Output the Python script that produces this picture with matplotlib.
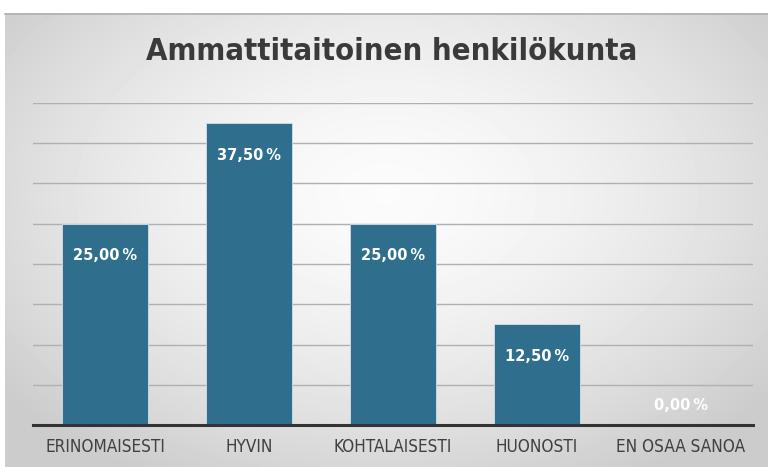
import numpy as np
import matplotlib.pyplot as plt

categories = ["ERINOMAISESTI", "HYVIN", "KOHTALAISESTI", "HUONOSTI", "EN OSAA SANOA"]
values = [25.0, 37.5, 25.0, 12.5, 0.0]
title = "Ammattitaitoinen henkilökunta"

W, H = 768, 467
fig = plt.figure(figsize=(W / 100, H / 100), dpi=100)

# background with radial gradient
bg = fig.add_axes([0, 0, 1, 1])
bg.set_xlim(0, W)
bg.set_ylim(H, 0)
bg.axis("off")
yy, xx = np.mgrid[0:H - 13, 0:W - 5]
cx, cy = (W - 5) / 2, (H - 13) * 0.4
r = np.sqrt(((xx - cx) / (W * 0.6)) ** 2 + ((yy - cy) / (H * 0.65)) ** 2)
g = np.clip(0.985 - 0.17 * r ** 1.6, 0.8, 1)
bg.imshow(g, cmap="gray", vmin=0, vmax=1, extent=[5, W, H, 13], aspect="auto")
bg.plot([5, W], [13.5, 13.5], color="#b0b0b0", lw=1.2)

# plot area
x0, x1 = 33, 753
ytop, ybase = 103, 425
ax = fig.add_axes([x0 / W, 1 - ybase / H, (x1 - x0) / W, (ybase - ytop) / H])
ax.patch.set_alpha(0)
ax.set_xlim(-0.5, len(categories) - 0.5)
ax.set_ylim(0, 40)
ax.set_yticks(np.arange(5, 41, 5))
ax.grid(axis="y", color="#b0b0b0", lw=1.0, zorder=0)
ax.set_axisbelow(True)
for s in ["top", "right", "left", "bottom"]:
    ax.spines[s].set_visible(False)
ax.axhline(0, color="#333333", lw=2.2, zorder=3, clip_on=False)

x = np.arange(len(categories))
ax.bar(x, values, width=0.6, color="#2F6E8C", edgecolor="#cfe0ea", lw=0.6, zorder=2)

for xi, v in zip(x, values):
    lbl = f"{v:.2f}".replace(".", ",") + "\u2009%"
    off = -23 if v > 0 else 14
    ax.annotate(lbl, (xi, v), xytext=(0, off), textcoords="offset points",
                ha="center", va="center", color="white", fontsize=10.5,
                fontweight="bold", zorder=4)

ax.set_yticklabels([])
ax.tick_params(axis="y", length=0)
ax.set_xticks(x)
ax.set_xticklabels(categories, fontsize=12.3, color="#404040", fontstretch="condensed",
                   family="DejaVu Sans")
ax.tick_params(axis="x", length=0, pad=9)

fig.text((W / 2 + 8) / W, 1 - 52 / H, title, ha="center", va="center",
         fontsize=22.2, fontweight="bold", color="#3a3a3a", family="DejaVu Sans",
         fontstretch="condensed")

fig.savefig("out.png", dpi=100)
